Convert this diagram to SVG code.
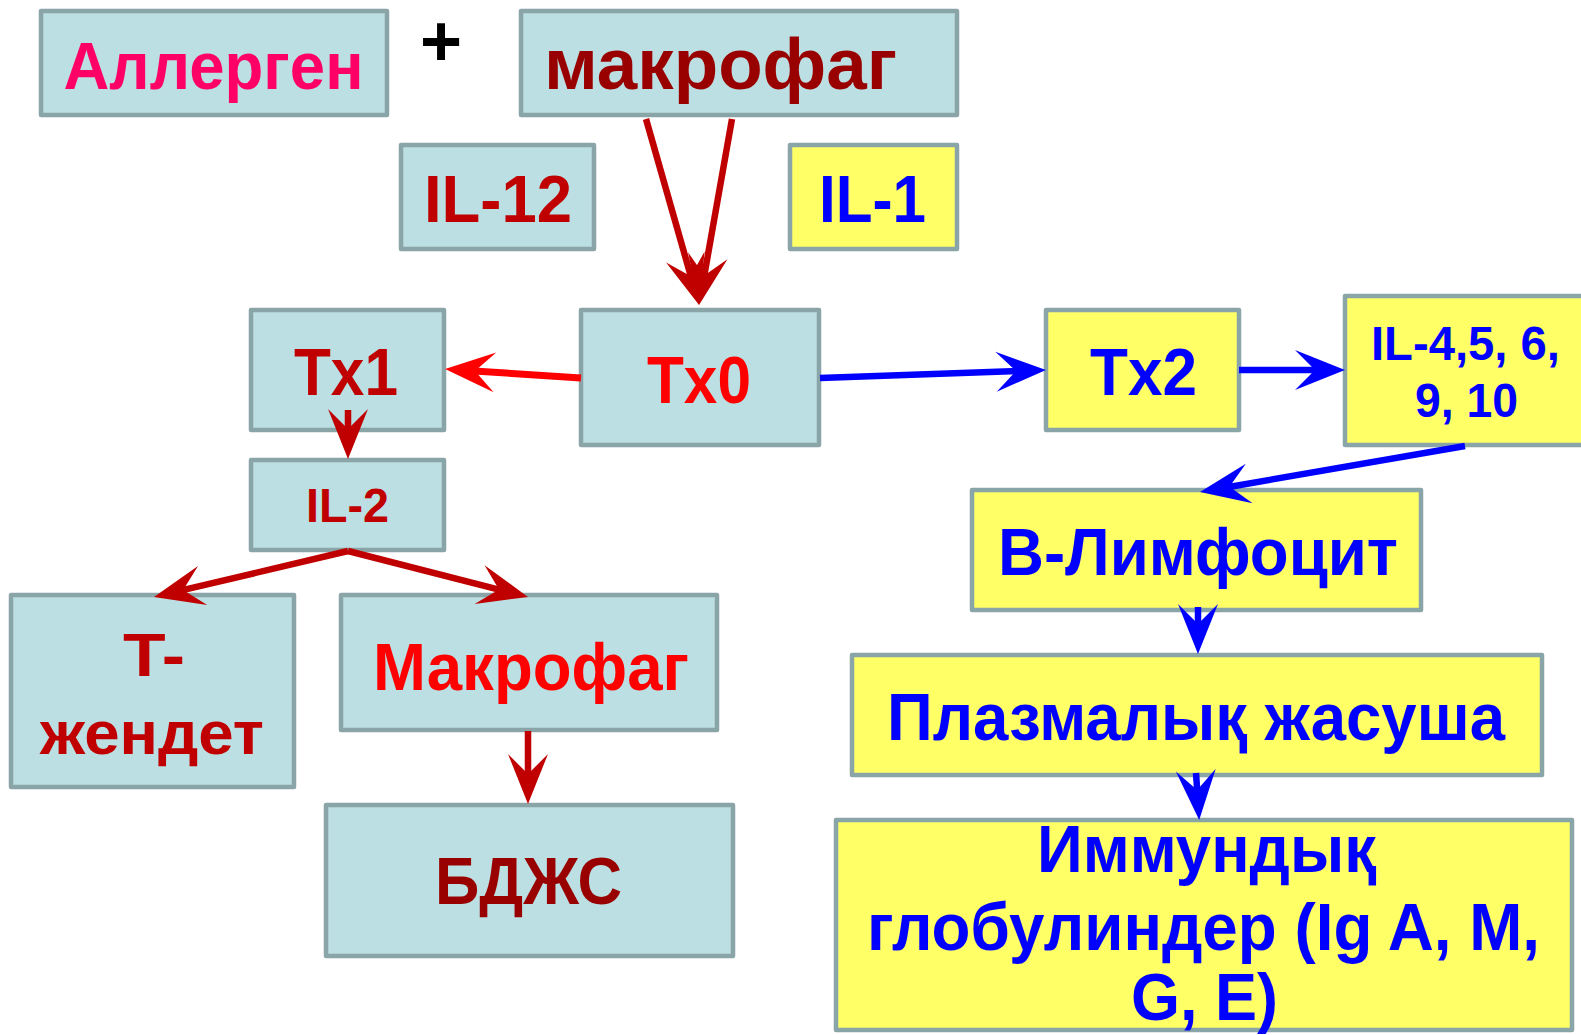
<svg xmlns="http://www.w3.org/2000/svg" width="1581" height="1035" viewBox="0 0 1581 1035">
<defs>
<style>
.box{stroke:#8AA5A8;stroke-width:4.5;stroke-linejoin:round}
.bl{fill:#BBDFE2}
.ye{fill:#FFFF66}
text{font-family:"Liberation Sans",Arial,sans-serif;font-weight:bold}
.dr{fill:#990000}
.cr{fill:#C00000}
.rd{fill:#FF0000}
.pk{fill:#FF0066}
.bu{fill:#0000FF}
.c{fill:none;stroke-linecap:butt}
.cdr{stroke:#C00000;stroke-width:6.5}
.crd{stroke:#FF0000;stroke-width:7}
.cbu{stroke:#0000FF;stroke-width:6.5}
</style>
<marker id="ahDR" markerUnits="userSpaceOnUse" viewBox="-52 -22 54 44" refX="-25" refY="0" markerWidth="54" markerHeight="44" orient="auto">
<path d="M0,0 L-50,-20 L-30,0 L-50,20 Z" fill="#C00000"/>
</marker>
<marker id="ahRD" markerUnits="userSpaceOnUse" viewBox="-52 -22 54 44" refX="-25" refY="0" markerWidth="54" markerHeight="44" orient="auto">
<path d="M0,0 L-50,-20 L-30,0 L-50,20 Z" fill="#FF0000"/>
</marker>
<marker id="ahBU" markerUnits="userSpaceOnUse" viewBox="-52 -22 54 44" refX="-25" refY="0" markerWidth="54" markerHeight="44" orient="auto">
<path d="M0,0 L-50,-20 L-30,0 L-50,20 Z" fill="#0000FF"/>
</marker>
</defs>
<rect width="1581" height="1035" fill="#FFFFFF"/>

<g id="nodes">
<g id="allergen">
<rect class="box bl" x="41" y="11" width="346" height="104"/>
<text class="pk" x="63.5" y="89" font-size="66" textLength="300" lengthAdjust="spacingAndGlyphs">Аллерген</text>
</g>
<g id="plus">
<text x="441" y="66" font-size="72" text-anchor="middle" fill="#000000">+</text>
</g>
<g id="makrofag-top">
<rect class="box bl" x="521" y="11" width="436" height="104"/>
<text class="dr" x="544" y="89" font-size="72" textLength="353" lengthAdjust="spacingAndGlyphs">макрофаг</text>
</g>
<g id="il12">
<rect class="box bl" x="401" y="145" width="193" height="104"/>
<text class="cr" x="424" y="222" font-size="66" textLength="148" lengthAdjust="spacingAndGlyphs">IL-12</text>
</g>
<g id="il1">
<rect class="box ye" x="790" y="145" width="167" height="104"/>
<text class="bu" x="819" y="222" font-size="66" textLength="107" lengthAdjust="spacingAndGlyphs">IL-1</text>
</g>
<g id="tx0">
<rect class="box bl" x="581" y="310" width="238" height="135"/>
<text class="rd" x="647" y="403" font-size="66" textLength="104" lengthAdjust="spacingAndGlyphs">Tx0</text>
</g>
<g id="tx1">
<rect class="box bl" x="251" y="310" width="193" height="120"/>
<text class="cr" x="294" y="395" font-size="66" textLength="104" lengthAdjust="spacingAndGlyphs">Tx1</text>
</g>
<g id="il2">
<rect class="box bl" x="251" y="460" width="193" height="90"/>
<text class="cr" x="306" y="522" font-size="48" textLength="83" lengthAdjust="spacingAndGlyphs">IL-2</text>
</g>
<g id="t-zhendet">
<rect class="box bl" x="11" y="595" width="283" height="192"/>
<text class="cr" x="123" y="676" font-size="62" textLength="62" lengthAdjust="spacingAndGlyphs">T-</text>
<text class="cr" x="40" y="754" font-size="62" textLength="224" lengthAdjust="spacingAndGlyphs">жендет</text>
</g>
<g id="makrofag">
<rect class="box bl" x="341" y="595" width="376" height="135"/>
<text class="rd" x="373" y="690" font-size="66" textLength="316" lengthAdjust="spacingAndGlyphs">Макрофаг</text>
</g>
<g id="bdzhs">
<rect class="box bl" x="326" y="805" width="407" height="151"/>
<text class="dr" x="435" y="904" font-size="66" textLength="187" lengthAdjust="spacingAndGlyphs">БДЖС</text>
</g>
<g id="tx2">
<rect class="box ye" x="1046" y="310" width="193" height="120"/>
<text class="bu" x="1090" y="395" font-size="66" textLength="107" lengthAdjust="spacingAndGlyphs">Tx2</text>
</g>
<g id="il4">
<rect class="box ye" x="1345" y="296" width="260" height="149"/>
<text class="bu" x="1371" y="360" font-size="48" textLength="189" lengthAdjust="spacingAndGlyphs">IL-4,5, 6,</text>
<text class="bu" x="1415" y="417" font-size="48" textLength="103" lengthAdjust="spacingAndGlyphs">9, 10</text>
</g>
<g id="b-limfocit">
<rect class="box ye" x="972" y="490" width="449" height="120"/>
<text class="bu" x="998" y="575" font-size="66" textLength="400" lengthAdjust="spacingAndGlyphs">В-Лимфоцит</text>
</g>
<g id="plazma">
<rect class="box ye" x="852" y="655" width="690" height="120"/>
<text class="bu" x="887" y="740" font-size="66" textLength="618" lengthAdjust="spacingAndGlyphs">Плазмалық жасуша</text>
</g>
<g id="immun">
<rect class="box ye" x="836" y="820" width="736" height="210"/>
<text class="bu" x="1037" y="872" font-size="66" textLength="339" lengthAdjust="spacingAndGlyphs">Иммундық</text>
<text class="bu" x="867" y="950" font-size="66" textLength="673" lengthAdjust="spacingAndGlyphs">глобулиндер (Ig A, M,</text>
<text class="bu" x="1131" y="1020" font-size="66" textLength="147" lengthAdjust="spacingAndGlyphs">G, E)</text>
</g>
</g>

<g id="connectors">
<line class="c cdr" x1="646" y1="119" x2="692.2" y2="281" marker-end="url(#ahDR)"/>
<line class="c cdr" x1="732" y1="119" x2="703.4" y2="280.4" marker-end="url(#ahDR)"/>
<line class="c crd" x1="581" y1="378" x2="470" y2="370.7" marker-end="url(#ahRD)"/>
<line class="c cdr" x1="348" y1="410" x2="348" y2="434" marker-end="url(#ahDR)"/>
<line class="c cdr" x1="348" y1="551" x2="178.3" y2="591.2" marker-end="url(#ahDR)"/>
<line class="c cdr" x1="348" y1="551" x2="503.8" y2="590.8" marker-end="url(#ahDR)"/>
<line class="c cdr" x1="528" y1="731" x2="528" y2="779" marker-end="url(#ahDR)"/>
<line class="c cbu" x1="820" y1="378" x2="1021" y2="370.9" marker-end="url(#ahBU)"/>
<line class="c cbu" x1="1239" y1="370" x2="1320" y2="370" marker-end="url(#ahBU)"/>
<line class="c cbu" x1="1465" y1="446" x2="1224.6" y2="487.7" marker-end="url(#ahBU)"/>
<line class="c cbu" x1="1198" y1="607" x2="1198" y2="629" marker-end="url(#ahBU)"/>
<line class="c cbu" x1="1196" y1="773" x2="1197.5" y2="795" marker-end="url(#ahBU)"/>
</g>
</svg>
